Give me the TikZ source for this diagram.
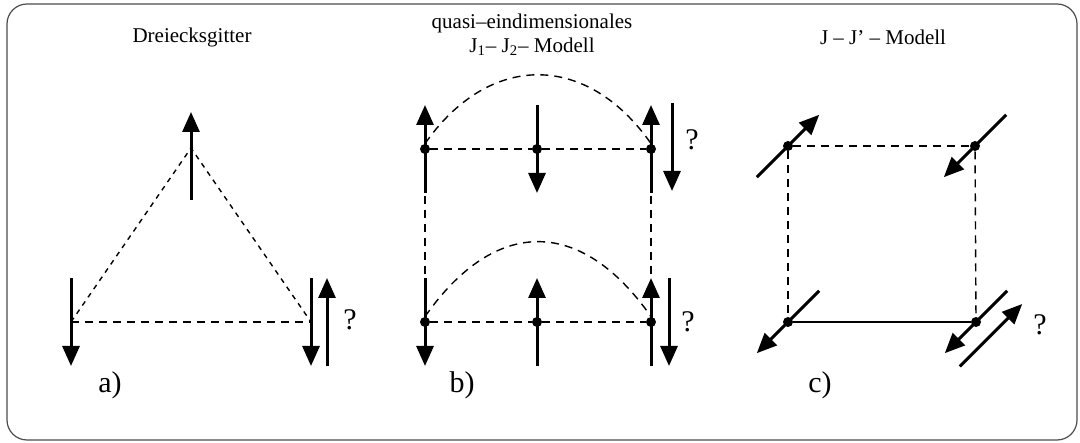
\documentclass[tikz,border=0pt]{standalone}
\usepackage{fontspec}
\setmainfont{Liberation Serif}
\usetikzlibrary{arrows.meta, calc}

\begin{document}
\begin{tikzpicture}[x=0.5pt, y=0.5pt,
  spin/.style={line width=1.5pt, -{Triangle[length=10pt,width=8.5pt]}},
  bond/.style={line width=0.7pt, dash pattern=on 4pt off 3pt},
  fine/.style={line width=0.7pt, dash pattern=on 2.5pt off 2.5pt},
  site/.style={circle, fill, inner sep=0pt, minimum size=5pt},
  title/.style={font=\fontsize{10.5}{12}\selectfont, align=center},
  tag/.style={font=\fontsize{15}{17}\selectfont}]
\useasboundingbox (0,0) rectangle (1080,443);
\draw[gray!60!black, line width=0.6pt, rounded corners=10pt] (7,3) rectangle (1077,439);

% a) Dreiecksgitter
\node[title] (ta) at (192,406) {Dreiecksgitter};
\coordinate (aT) at (191,295);
\coordinate (aL) at (71,121);
\coordinate (aR) at (311,121);
\draw[fine] (aL) -- (aT) -- (aR);
\draw[bond] (aL) -- (aR);
\draw[spin] ([yshift=-26pt]aT) -- ([yshift=18pt]aT);
\draw[spin] ([yshift=22pt]aL) -- ([yshift=-22pt]aL);
\draw[spin] ([yshift=22pt]aR) -- ([yshift=-22pt]aR);
\draw[spin] ([shift={(8pt,-22pt)}]aR) -- ([shift={(8pt,22pt)}]aR);
\node[tag] (qa) at (350,123) {?};
\node[tag] (la) at (110,58) {a)};

% b) quasi-eindimensionales J1-J2-Modell
\node[title] (tb) at (532,408) {quasi–eindimensionales\\J\textsubscript{1}– J\textsubscript{2}– Modell};
\node[site] (bTL) at (425,294) {};
\node[site] (bTM) at (537,294) {};
\node[site] (bTR) at (651,294) {};
\node[site] (bBL) at (425,121) {};
\node[site] (bBM) at (537,121) {};
\node[site] (bBR) at (651,121) {};
\draw[bond] (bTL) -- (bTM) -- (bTR);
\draw[bond] (bBL) -- (bBM) -- (bBR);
\draw[bond] (bTL) -- (bBL);
\draw[bond] (bTR) -- (bBR);
\draw[bond] (bTL.north) .. controls +(55:56pt) and +(125:56pt) .. (bTR.north);
\draw[bond] (bBL.north) .. controls +(55:61pt) and +(125:61pt) .. (bBR.north);
\draw[spin] ([yshift=-22pt]bTL.center) -- ([yshift=22pt]bTL.center);
\draw[spin] ([yshift=22pt]bTM.center) -- ([yshift=-22pt]bTM.center);
\draw[spin] ([yshift=-22pt]bTR.center) -- ([yshift=22pt]bTR.center);
\draw[spin] ([shift={(10.5pt,23pt)}]bTR.center) -- ([shift={(10.5pt,-21pt)}]bTR.center);
\draw[spin] ([yshift=22pt]bBL.center) -- ([yshift=-22pt]bBL.center);
\draw[spin] ([yshift=-22pt]bBM.center) -- ([yshift=22pt]bBM.center);
\draw[spin] ([yshift=-22pt]bBR.center) -- ([yshift=22pt]bBR.center);
\draw[spin] ([shift={(9pt,22pt)}]bBR.center) -- ([shift={(9pt,-22pt)}]bBR.center);
\node[tag] (qb1) at (692,303) {?};
\node[tag] (qb2) at (688,121) {?};
\node[tag] (lb) at (462,58) {b)};

% c) J-J'-Modell
\node[title] (tc) at (883,406) {J – J’ – Modell};
\node[site] (cTL) at (788,297) {};
\node[site] (cTR) at (975,297) {};
\node[site] (cBL) at (788,121) {};
\node[site] (cBR) at (976,121) {};
\draw[bond] (cTL) -- (cTR);
\draw[bond] (cTL) -- (cBL);
\draw[bond] (cTR) -- (cBR);
\draw[line width=0.8pt] (cBL) -- (cBR);
\draw[spin] ([shift={(-15.6pt,-15.6pt)}]cTL.center) -- ([shift={(15.6pt,15.6pt)}]cTL.center);
\draw[spin] ([shift={(15.6pt,15.6pt)}]cTR.center) -- ([shift={(-15.6pt,-15.6pt)}]cTR.center);
\draw[spin] ([shift={(15.6pt,15.6pt)}]cBL.center) -- ([shift={(-15.6pt,-15.6pt)}]cBL.center);
\draw[spin] ([shift={(15.6pt,15.6pt)}]cBR.center) -- ([shift={(-15.6pt,-15.6pt)}]cBR.center);
\draw[spin] ([shift={(-8.1pt,-22.2pt)}]cBR.center) -- ([shift={(23.1pt,9pt)}]cBR.center);
\node[tag] (qc) at (1040,118) {?};
\node[tag] (lc) at (820,58) {c)};
\end{tikzpicture}
\end{document}
